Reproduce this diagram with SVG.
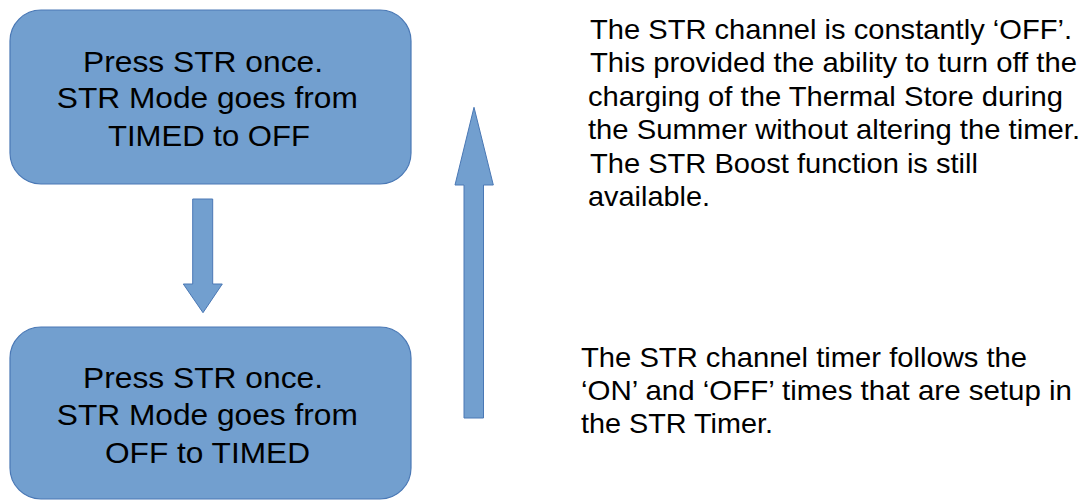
<svg xmlns="http://www.w3.org/2000/svg" width="1086" height="500" viewBox="0 0 1086 500">
<style>
.box{fill:#729fcf;stroke:#4a78b5;stroke-width:1.2}
.arrow{fill:#729fcf;stroke:#4a78b5;stroke-width:1}
.bt{font-family:"Liberation Sans",Arial,sans-serif;font-size:29px;fill:#000;text-anchor:middle}
.nt{font-family:"Liberation Sans",Arial,sans-serif;font-size:28px;fill:#000}
</style>
<rect width="1086" height="500" fill="#fff"/>
<g id="connectors">
<path class="arrow" d="M192.7,199 H212.7 V284 H222.3 L203,312.7 L183.3,284 H192.7 Z"/>
<path class="arrow" d="M464,418 V185 H455 L474,107.3 L493.3,185 H483.5 V418 Z"/>
</g>
<g id="node-timed-to-off">
<rect class="box" x="10" y="10" width="401" height="174" rx="31" ry="31"/>
<text class="bt"><tspan x="203" y="71.7" textLength="240" lengthAdjust="spacingAndGlyphs">Press STR once.</tspan><tspan x="207.3" y="108.3" textLength="301" lengthAdjust="spacingAndGlyphs">STR Mode goes from</tspan><tspan x="209" y="145.7" textLength="202" lengthAdjust="spacingAndGlyphs">TIMED to OFF</tspan></text>
</g>
<g id="node-off-to-timed">
<rect class="box" x="10" y="327" width="401" height="172" rx="31" ry="31"/>
<text class="bt"><tspan x="203" y="387.5" textLength="240" lengthAdjust="spacingAndGlyphs">Press STR once.</tspan><tspan x="207.3" y="425" textLength="301" lengthAdjust="spacingAndGlyphs">STR Mode goes from</tspan><tspan x="207.5" y="463" textLength="205" lengthAdjust="spacingAndGlyphs">OFF to TIMED</tspan></text>
</g>
<g id="note-off">
<text class="nt"><tspan x="590" y="38.5" textLength="482" lengthAdjust="spacingAndGlyphs">The STR channel is constantly ‘OFF’.</tspan><tspan x="590" y="72" textLength="487" lengthAdjust="spacingAndGlyphs">This provided the ability to turn off the</tspan><tspan x="588" y="105.5" textLength="475" lengthAdjust="spacingAndGlyphs">charging of the Thermal Store during</tspan><tspan x="588" y="139" textLength="492" lengthAdjust="spacingAndGlyphs">the Summer without altering the timer.</tspan><tspan x="590" y="172.5" textLength="388" lengthAdjust="spacingAndGlyphs">The STR Boost function is still</tspan><tspan x="588" y="206" textLength="122" lengthAdjust="spacingAndGlyphs">available.</tspan></text>
</g>
<g id="note-timed">
<text class="nt"><tspan x="581" y="366.7" textLength="446" lengthAdjust="spacingAndGlyphs">The STR channel timer follows the</tspan><tspan x="581" y="400" textLength="491" lengthAdjust="spacingAndGlyphs">‘ON’ and ‘OFF’ times that are setup in</tspan><tspan x="581" y="433.3" textLength="192" lengthAdjust="spacingAndGlyphs">the STR Timer.</tspan></text>
</g>
</svg>
